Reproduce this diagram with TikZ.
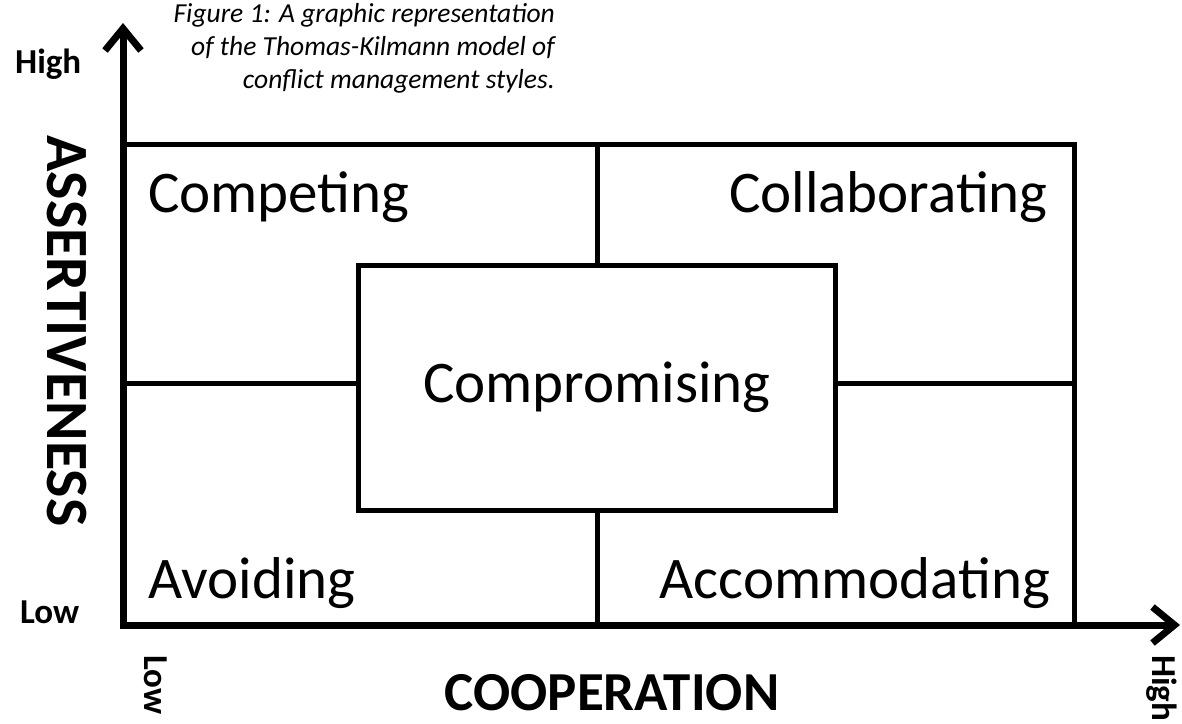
\documentclass[tikz,border=0pt]{standalone}
\usepackage{fontspec}
\setmainfont{Carlito}
\usetikzlibrary{arrows.meta}
\begin{document}
\begin{tikzpicture}[x=1pt,y=-1pt,
  boxline/.style={line width=5pt},
  axisline/.style={line width=7pt, line join=miter,
    {Straight Barb[length=22pt,width=36pt]}-{Straight Barb[length=22pt,width=36pt]}},
  quad/.style={font=\fontsize{59}{70}\selectfont, inner sep=0pt},
  axlab/.style={font=\bfseries\fontsize{60}{70}\selectfont, inner sep=0pt},
  lvl/.style={font=\bfseries\fontsize{35}{40}\selectfont, inner sep=0pt},
  capt/.style={font=\itshape\fontsize{27.5}{33}\selectfont, inner sep=0pt, align=right}]
\useasboundingbox (0,0) rectangle (1182,723);
% corners and ends
\coordinate (O) at (123,625);
\coordinate (ytip) at (123,23);
\coordinate (xtip) at (1180,625);
\coordinate (tl) at (123,144);
\coordinate (tr) at (1074,144);
\coordinate (br) at (1074,625);
\coordinate (tm) at (597,144);
\coordinate (bm) at (597,625);
\coordinate (ml) at (123,383);
\coordinate (mr) at (1074,383);
% centre box
\node[draw, boxline, minimum width=477pt, minimum height=245pt, quad] (comp) at (597,387.5) {Compromising};
% frame
\draw[boxline] (tl) -- (tr) -- (br);
\draw[boxline] (tm) -- (comp.north);
\draw[boxline] (comp.south) -- (bm);
\draw[boxline] (ml) -- (comp.west |- ml);
\draw[boxline] (comp.east |- mr) -- (mr);
% axes
\draw[axisline] (ytip) -- (O) -- (xtip);
% quadrant labels
\node[quad, anchor=base west] (cmpt) at (148,212) {Competing};
\node[quad, anchor=base east] (coll) at (1048,212) {Collaborating};
\node[quad, anchor=base west] (avoid) at (148,598) {Avoiding};
\node[quad, anchor=base east] (acc) at (1050,598) {Accommodating};
% axis labels
\node[axlab, rotate=-90, anchor=center] (ass) at (67,331) {ASSERTIVENESS};
\node[axlab, font=\bfseries\fontsize{55}{64}\selectfont, anchor=base] (coop) at (612,710) {COOPERATION};
\node[lvl, anchor=base west] (yhigh) at (15,73) {High};
\node[lvl, anchor=base west] (ylow) at (20,623) {Low};
\node[lvl, rotate=-90, anchor=base west] (xlow) at (144,655) {Low};
\node[lvl, rotate=-90, anchor=base west] (xhigh) at (1152,655) {High};
% caption
\node[capt, anchor=north east] (cap) at (555,3) {Figure 1: A graphic representation\\of the Thomas-Kilmann model of\\conflict management styles.};
\end{tikzpicture}
\end{document}
